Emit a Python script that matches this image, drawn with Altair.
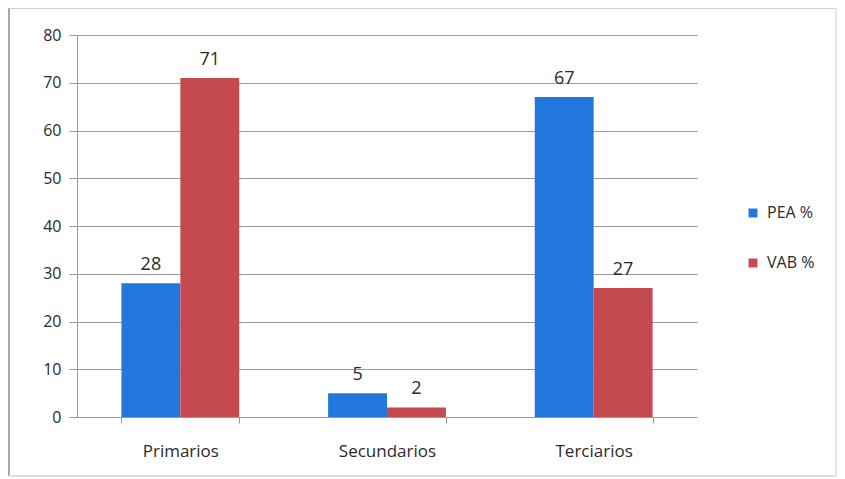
import altair as alt
import pandas as pd

categories = ["Primarios", "Secundarios", "Terciarios"]
series = ["PEA %", "VAB %"]
pea = [28, 5, 67]
vab = [71, 2, 27]

rows = []
for c, p, v in zip(categories, pea, vab):
    rows.append({"cat": c, "serie": series[0], "val": p})
    rows.append({"cat": c, "serie": series[1], "val": v})
df = pd.DataFrame(rows)

colors = ["#2277dc", "#c44a50"]
font = "Open Sans"

x = alt.X("cat:N", sort=categories, title=None,
          scale=alt.Scale(paddingInner=0.43, paddingOuter=0.215),
          axis=alt.Axis(labelAngle=0, labelFontSize=17, labelColor="#2a2a2a", labelFont=font,
                        labelPadding=20, domainColor="#999999", tickColor="#999999",
                        tickBand="extent", tickSize=6, grid=False))
xo = alt.XOffset("serie:N", sort=series)

bars = alt.Chart(df).mark_bar().encode(
    x=x, xOffset=xo,
    y=alt.Y("val:Q", title=None,
            scale=alt.Scale(domain=[0, 80]),
            axis=alt.Axis(values=list(range(0, 81, 10)), labelFontSize=16, labelColor="#2a2a2a",
                          labelFont=font, labelPadding=8, gridColor="#9a9a9a", domainColor="#999999",
                          tickColor="#999999", tickSize=8)),
    color=alt.Color("serie:N", sort=series, scale=alt.Scale(domain=series, range=colors),
                    legend=alt.Legend(title=None, orient="none", legendX=668, legendY=170,
                                      symbolType="square", symbolSize=80, symbolStrokeWidth=0,
                                      labelFontSize=16, labelFont=font, labelColor="#2a2a2a",
                                      rowPadding=34, labelOffset=6)),
)

labels = alt.Chart(df).mark_text(baseline="bottom", dy=-9, fontSize=18, font=font, color="#2a2a2a").encode(
    x=alt.X("cat:N", sort=categories), xOffset=xo,
    y="val:Q",
    text="val:Q",
)

frame_left = alt.Chart(df).mark_rule(color="#a8a8a8", strokeWidth=1.5).encode(
    x=alt.value(-68), y=alt.value(-27), y2=alt.value(441))
frame_top = alt.Chart(df).mark_rule(color="#d0d0d0", strokeWidth=1.5).encode(
    x=alt.value(-68), x2=alt.value(759), y=alt.value(-27))
frame_bottom = alt.Chart(df).mark_rule(color="#dddddd", strokeWidth=1.5).encode(
    x=alt.value(-68), x2=alt.value(759), y=alt.value(441))
frame_right = alt.Chart(df).mark_rule(color="#e4e4e4", strokeWidth=1.5).encode(
    x=alt.value(759), y=alt.value(-27), y2=alt.value(441))

chart = alt.layer(frame_left, frame_top, frame_bottom, frame_right, bars, labels).properties(
    width=620, height=382,
    autosize=alt.AutoSizeParams(type="none"),
    padding={"left": 69, "top": 27, "right": 140, "bottom": 60},
).configure_view(stroke=None)

chart.save("out.html", embed_options={"renderer": "svg", "actions": False})
